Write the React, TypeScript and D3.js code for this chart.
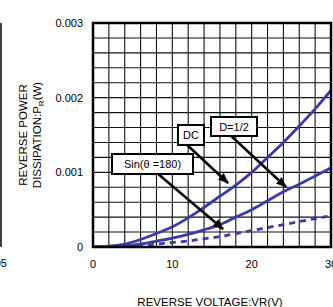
import React from "react";
import * as d3 from "d3";

const voltages = [0, 2, 4, 6, 8, 10, 12, 14, 16, 18, 20, 22, 24, 26, 28, 30];
const dcValues = [0, 0.00001, 0.00004, 0.0001, 0.00018, 0.00027, 0.00039, 0.00053, 0.00068, 0.00083, 0.001, 0.0012, 0.0014, 0.00162, 0.00185, 0.0021];
const halfValues = [0, 0.000005, 0.00002, 0.00004, 0.00008, 0.00012, 0.00017, 0.00023, 0.0003, 0.0004, 0.0005, 0.00062, 0.00074, 0.00084, 0.00095, 0.00106];
const sinValues = [0, 0.000002, 0.00001, 0.00002, 0.00004, 0.00006, 0.00008, 0.00011, 0.00014, 0.00018, 0.00022, 0.00026, 0.0003, 0.00034, 0.00038, 0.00042];
const xTicks = [0, 10, 20, 30];
const yTicks = [0, 0.001, 0.002, 0.003];
const yTickLabels = ["0", "0.001", "0.002", "0.003"];
const xGrid = d3.range(0, 31, 2);
const yGrid = d3.range(0, 0.00301, 0.0002);

const annotations = [
  { text: "DC", box: [178, 125, 26, 20], from: [185, 143], to: [228, 183] },
  { text: "D=1/2", box: [211, 117, 46, 19], from: [228, 133], to: [286, 187] },
  { text: "Sin(\u03B8 =180)", box: [112, 154, 81, 20], from: [157, 173], to: [223, 229] },
];

const L = 93, R = 331, T = 23, B = 247;
const BLUE = "#3a3aaa";

export default function App() {
  const x = d3.scaleLinear().domain([0, 30]).range([L, R]);
  const y = d3.scaleLinear().domain([0, 0.003]).range([B, T]);
  const line = d3
    .line<number>()
    .x((_, i) => x(voltages[i]))
    .y((d) => y(d))
    .curve(d3.curveMonotoneX);
  const font = "'Liberation Sans', Arial, sans-serif";
  return (
    <svg width={333} height={307} style={{ position: "absolute", left: 0, top: 0 }} fontFamily={font}>
      <defs>
        <clipPath id="plot">
          <rect x={L} y={T} width={R - L} height={B - T} />
        </clipPath>
        <marker id="ah" viewBox="0 0 10 8" refX="9" refY="4" markerWidth="11" markerHeight="9" markerUnits="userSpaceOnUse" orient="auto">
          <path d="M0,0 L10,4 L0,8 Z" fill="#000" />
        </marker>
      </defs>
      <rect width={333} height={307} fill="#fff" />
      <line x1={1} x2={1} y1={23} y2={247} stroke="#000" strokeWidth={1.5} />
      <text x={7} y={267} fontSize={11} textAnchor="end" fill="#000">05</text>
      {xGrid.map((v) => (
        <line key={"gx" + v} x1={x(v)} x2={x(v)} y1={T} y2={B} stroke="#111" strokeWidth={1.1} />
      ))}
      {yGrid.map((v, i) => (
        <line key={"gy" + i} x1={L} x2={R} y1={y(v)} y2={y(v)} stroke="#111" strokeWidth={1.1} />
      ))}
      <g clipPath="url(#plot)" fill="none" stroke={BLUE} strokeWidth={2.8}>
        <path d={line(dcValues) || ""} />
        <path d={line(halfValues) || ""} />
        <path d={line(sinValues) || ""} strokeDasharray="6 5" />
      </g>
      <rect x={L} y={T} width={R - L} height={B - T} fill="none" stroke="#000" strokeWidth={2.5} />
      {annotations.map((a) => (
        <g key={a.text}>
          <line x1={a.from[0]} y1={a.from[1]} x2={a.to[0]} y2={a.to[1]} stroke="#000" strokeWidth={2.5} markerEnd="url(#ah)" />
          <rect x={a.box[0]} y={a.box[1]} width={a.box[2]} height={a.box[3]} fill="#fff" stroke="#000" strokeWidth={2} />
          <text x={a.box[0] + a.box[2] / 2} y={a.box[1] + a.box[3] / 2 + 4} fontSize={11} textAnchor="middle" fill="#000">{a.text}</text>
        </g>
      ))}
      {yTicks.map((v, i) => (
        <text key={"yt" + i} x={83} y={y(v) + 4} fontSize={11} textAnchor="end" fill="#000">{yTickLabels[i]}</text>
      ))}
      {xTicks.map((v) => (
        <text key={"xt" + v} x={x(v)} y={268} fontSize={11} textAnchor="middle" fill="#000">{v}</text>
      ))}
      <text x={210} y={306} fontSize={11.5} textAnchor="middle" fill="#000">REVERSE VOLTAGE:VR(V)</text>
      <g transform="translate(0,135) rotate(-90)">
        <text x={0} y={27} fontSize={11.5} textAnchor="middle" fill="#000">REVERSE POWER</text>
        <text x={0} y={41} fontSize={11.5} textAnchor="middle" fill="#000">
          DISSIPATION:P<tspan fontSize={8} dy={3}>R</tspan><tspan dy={-3}>(W)</tspan>
        </text>
      </g>
    </svg>
  );
}
